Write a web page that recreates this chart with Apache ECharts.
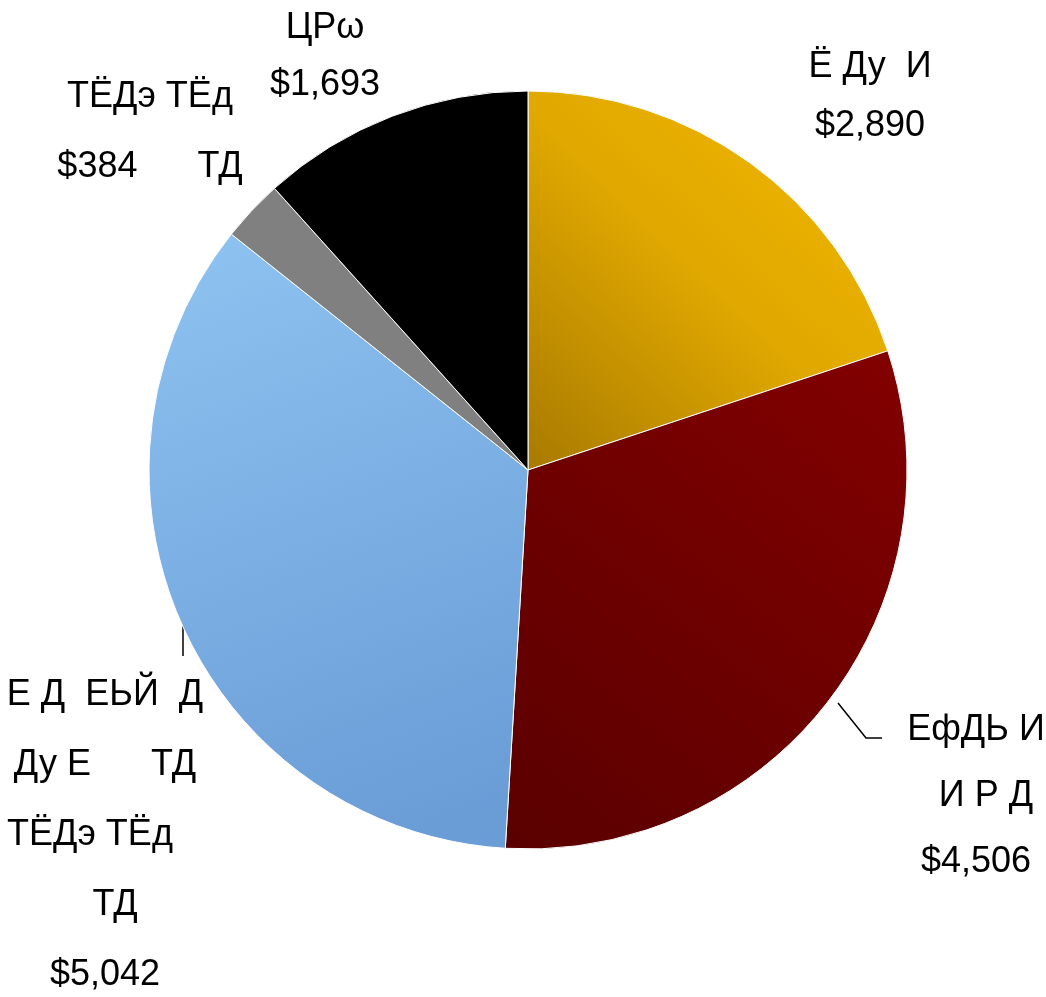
<!DOCTYPE html>
<html><head><meta charset="utf-8">
<script src="https://cdn.jsdelivr.net/npm/echarts@6/dist/echarts.min.js"></script>
<style>html,body{margin:0;padding:0;background:#fff}#c{width:1046px;height:997px}</style>
</head><body><div id="c"></div>
<script>
var categories = ["Ё Ду  И", "ЕфДЬ И\n  И Р Д", "Е Д  ЕЬЙ  Д\nДу Е      ТД\nТЁДэ ТЁд   \n  ТД", "ТЁДэ ТЁд", "ЦРω"];
var values = [2890, 4506, 5042, 384, 1693];
var valueLabels = ["$2,890", "$4,506", "$5,042", "$384      ТД", "$1,693"];

var colors = [
  {type:'linear',x:1,y:0,x2:0,y2:1,colorStops:[{offset:0,color:'#F2B800'},{offset:0.5,color:'#E0A800'},{offset:1,color:'#A87A00'}]},
  {type:'linear',x:1,y:0,x2:0,y2:1,colorStops:[{offset:0,color:'#830000'},{offset:1,color:'#5A0000'}]},
  {type:'linear',x:0,y:0,x2:0.6,y2:1,colorStops:[{offset:0,color:'#8EC3F1'},{offset:1,color:'#6A9CD6'}]},
  '#808080',
  '#000000'
];
var labelPos = [[870,97,59],[976,796,66],[105,835,70],[150,132,70],[325,57,57]];
var linePts = {1: [[838,703],[866,738],[882,738]], 2: [[183,624],[183,656],[183,656]]};

var data = values.map(function(v,i){
  var name = categories[i];
  return {
    value: v, name: name,
    itemStyle: {color: colors[i]},
    label: {formatter: name + "\n" + valueLabels[i], lineHeight: labelPos[i][2]},
    labelLine: {show: !!linePts[i]}
  };
});

var chart = echarts.init(document.getElementById('c'), null, {renderer:'canvas'});
chart.setOption({
  animation: false,
  backgroundColor: '#ffffff',
  series: [{
    type: 'pie',
    center: [528, 470],
    radius: 379,
    startAngle: 90,
    clockwise: true,
    data: data,
    itemStyle: {borderColor: '#ffffff', borderWidth: 1},
    label: {
      show: true, position: 'outside', overflow: 'none', width: 400,
      fontFamily: 'Liberation Sans, Arial, sans-serif',
      fontSize: 36, color: '#000', align: 'center'
    },
    labelLine: {show: true, lineStyle: {color: '#000', width: 1.5}, length: 20, length2: 15},
    labelLayout: function(p){
      var i = p.dataIndex;
      var o = {x: labelPos[i][0], y: labelPos[i][1], align: 'center', verticalAlign: 'middle'};
      if (linePts[i]) o.labelLinePoints = linePts[i];
      return o;
    }
  }]
});
</script></body></html>
